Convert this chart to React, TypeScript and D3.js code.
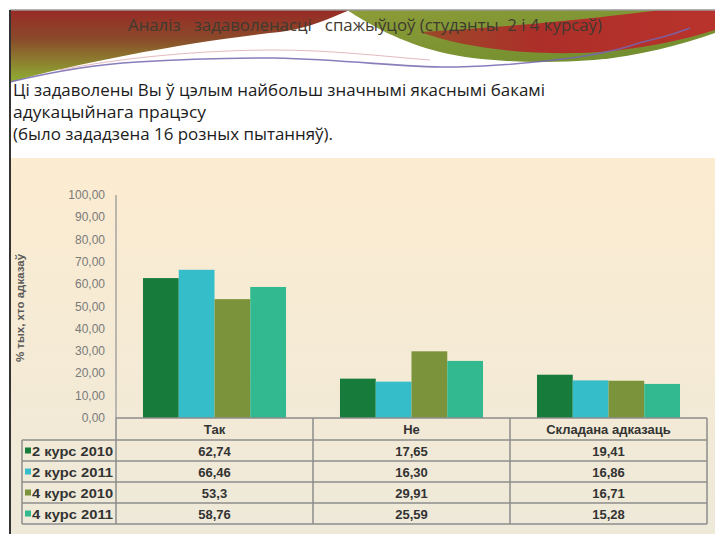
import React from 'react';
import * as d3 from 'd3';

// chart data
const categories = ['Так', 'Не', 'Складана адказаць'];
const seriesNames = ['2 курс 2010', '2 курс 2011', '4 курс 2010', '4 курс 2011'];
const course2y2010 = [62.74, 17.65, 19.41];
const course2y2011 = [66.46, 16.3, 16.86];
const course4y2010 = [53.3, 29.91, 16.71];
const course4y2011 = [58.76, 25.59, 15.28];
const seriesValues = [course2y2010, course2y2011, course4y2010, course4y2011];
// table text exactly as printed
const tableLabels = [
  ['62,74', '17,65', '19,41'],
  ['66,46', '16,30', '16,86'],
  ['53,3', '29,91', '16,71'],
  ['58,76', '25,59', '15,28'],
];
const yTicks = [0, 10, 20, 30, 40, 50, 60, 70, 80, 90, 100];

const colors = ['#177b3b', '#35bdc9', '#7b933a', '#33b98f'];

const W = 715;
const H = 534;

const App: React.FC = () => {
  const axisX = 116;
  const right = 707;
  const baseY = 418;
  const topY = 195;
  const rowH = 21;
  const tableLeft = 22;

  const x0 = d3.scaleBand<string>().domain(categories).range([axisX, right]).padding(0);
  const bw = x0.bandwidth();
  const x1 = d3
    .scaleBand<string>()
    .domain(seriesNames)
    .range([bw * 0.137, bw * 0.863])
    .padding(0);
  const y = d3.scaleLinear().domain([0, 100]).range([baseY, topY]);
  const fmt = (v: number) => d3.format('.2f')(v).replace('.', ',');

  const font = '"Liberation Sans", Arial, sans-serif';
  const rowsTop = baseY + rowH + 1;

  return (
    <div style={{ position: 'absolute', left: 0, top: 0 }}>
      <svg width={W} height={H} style={{ display: 'block' }}>
        <defs>
          <linearGradient id="bg" x1="0" y1="0" x2="0" y2="1">
            <stop offset="0" stopColor="#fcecd1" />
            <stop offset="1" stopColor="#eee9d9" />
          </linearGradient>
          <linearGradient id="redgreen" x1="0" y1="0" x2="0" y2="1">
            <stop offset="0" stopColor="#982a26" />
            <stop offset="0.4" stopColor="#8a4a2a" />
            <stop offset="1" stopColor="#8fb034" />
          </linearGradient>
          <linearGradient id="greenband" x1="0" y1="0" x2="1" y2="1">
            <stop offset="0" stopColor="#8c9c38" />
            <stop offset="1" stopColor="#6f8c2e" />
          </linearGradient>
          <linearGradient id="redband" x1="0" y1="0" x2="1" y2="0">
            <stop offset="0" stopColor="#9a4a2a" />
            <stop offset="0.4" stopColor="#ad2f29" />
            <stop offset="1" stopColor="#b8332b" />
          </linearGradient>
        </defs>

        <rect x={0} y={0} width={W} height={H} fill="#ffffff" />

        {/* header banner */}
        <path d="M10,10 H350 C330,18 310,28 280,32 C200,40 80,62 10,82 Z" fill="url(#redgreen)" />
        <path
          d="M347,10 H715 V33 C680,45 640,56 594,60 C540,64 480,62 440,52 C400,42 370,25 347,10 Z"
          fill="url(#greenband)"
        />
        <path
          d="M420,32 C500,28 600,18 660,10 H715 V30 C680,41 640,49 600,52 C540,56 470,50 420,32 Z"
          fill="url(#redband)"
        />
        <path
          d="M10,82 C60,70 100,64 137,62 C200,58 240,58 274,58 C360,60 400,68 457,67 C500,66 540,62 571,58 C600,54 625,48 639,43 C660,38 675,34 690,28"
          fill="none"
          stroke="#7566b0"
          strokeWidth={1.6}
          opacity={0.85}
        />
        <path
          d="M60,70 C120,58 200,50 274,50 C330,50 380,56 430,60"
          fill="none"
          stroke="#d08a92"
          strokeWidth={1}
          opacity={0.6}
        />
        <text
          x={365}
          y={31}
          textAnchor="middle"
          fontFamily='"Open Sans", sans-serif'
          fontSize={16}
          fill="#3f3a30"
          textLength={474}
          lengthAdjust="spacingAndGlyphs"
          style={{ whiteSpace: 'pre' }}
        >
          Аналіз   задаволенасці   спажыўцоў (студэнты  2 і 4 курсаў)
        </text>

        {/* slide border */}
        <line x1={10} y1={10} x2={715} y2={10} stroke="#9a9a9a" strokeWidth={1.5} />
        <line x1={10} y1={10} x2={10} y2={H} stroke="#333" strokeWidth={2} />

        {/* question text */}
        <g fontFamily='"Open Sans", sans-serif' fontSize={16.5} fill="#1c1c1c">
          <text x={13} y={96} textLength={532} lengthAdjust="spacingAndGlyphs">
            Ці задаволены Вы ў цэлым найбольш значнымі якаснымі бакамі
          </text>
          <text x={13} y={118} textLength={193} lengthAdjust="spacingAndGlyphs">
            адукацыйнага працэсу
          </text>
          <text x={13} y={140} textLength={320} lengthAdjust="spacingAndGlyphs">
            (было зададзена 16 розных пытанняў).
          </text>
        </g>

        {/* chart background */}
        <rect x={11} y={158} width={W - 11} height={H - 158} fill="url(#bg)" />

        {/* y axis */}
        <line x1={axisX} y1={topY} x2={axisX} y2={baseY} stroke="#9a9a9a" strokeWidth={1.3} />
        <g fontFamily={font} fontSize={12} fill="#7a7a7a" textAnchor="end">
          {yTicks.map((t) => (
            <text key={t} x={105} y={y(t) + 4}>
              {fmt(t)}
            </text>
          ))}
        </g>
        <text
          transform={`translate(24,${308}) rotate(-90)`}
          textAnchor="middle"
          fontFamily={font}
          fontSize={11.5}
          fontWeight="bold"
          fill="#5a5a5a"
        >
          % тых, хто адказаў
        </text>

        {/* bars */}
        {seriesNames.map((s, si) => (
          <g key={s} fill={colors[si]}>
            {categories.map((c, ci) => {
              const v = seriesValues[si][ci];
              return (
                <rect
                  key={c}
                  x={(x0(c) || 0) + (x1(s) || 0)}
                  y={y(v)}
                  width={x1.bandwidth()}
                  height={baseY - y(v)}
                />
              );
            })}
          </g>
        ))}

        {/* data table */}
        <g stroke="#8c8c8c" strokeWidth={1.5} fill="none">
          <line x1={axisX} y1={baseY} x2={right} y2={baseY} />
          <line x1={tableLeft} y1={rowsTop} x2={right} y2={rowsTop} />
          {seriesNames.map((s, i) => (
            <line
              key={s}
              x1={tableLeft}
              y1={rowsTop + (i + 1) * rowH}
              x2={right}
              y2={rowsTop + (i + 1) * rowH}
            />
          ))}
          <line x1={tableLeft} y1={rowsTop} x2={tableLeft} y2={rowsTop + 4 * rowH} />
          <line x1={axisX} y1={baseY} x2={axisX} y2={rowsTop + 4 * rowH} />
          {categories.map((c) => (
            <line
              key={c}
              x1={(x0(c) || 0) + bw}
              y1={baseY}
              x2={(x0(c) || 0) + bw}
              y2={rowsTop + 4 * rowH}
            />
          ))}
        </g>
        <g fontFamily={font} fontSize={13} fontWeight="bold" fill="#333" textAnchor="middle">
          {categories.map((c) => (
            <text key={c} x={(x0(c) || 0) + bw / 2} y={baseY + 15.5}>
              {c}
            </text>
          ))}
          {seriesNames.map((s, si) =>
            categories.map((c, ci) => (
              <text key={s + c} x={(x0(c) || 0) + bw / 2} y={rowsTop + si * rowH + 15.5}>
                {tableLabels[si][ci]}
              </text>
            ))
          )}
        </g>
        <g fontFamily={font} fontSize={13} fontWeight="bold" fill="#333">
          {seriesNames.map((s, si) => (
            <g key={s}>
              <rect x={25} y={rowsTop + si * rowH + 7.5} width={6} height={6} fill={colors[si]} />
              <text
                x={32}
                y={rowsTop + si * rowH + 15.5}
                textLength={81}
                lengthAdjust="spacingAndGlyphs"
              >
                {s}
              </text>
            </g>
          ))}
        </g>
      </svg>
    </div>
  );
};

export default App;
